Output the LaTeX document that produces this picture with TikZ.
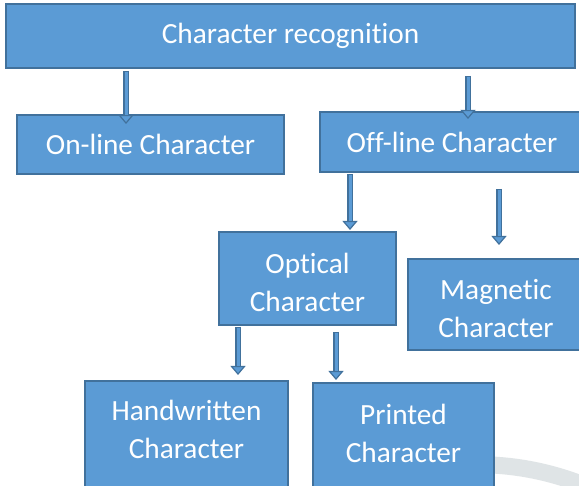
\documentclass[tikz,border=0pt]{standalone}
\usepackage{fontspec}
\setmainfont{Carlito}[Ligatures=NoCommon]
\usetikzlibrary{arrows.meta}
\definecolor{boxfill}{HTML}{5B9BD5}
\definecolor{boxedge}{HTML}{41719C}
\definecolor{wm}{HTML}{DFE4E6}
\tikzset{
  boxtext/.style={text=white, font=\fontsize{29.3}{38}\selectfont, align=center},
  box/.style={draw=boxedge, fill=boxfill, line width=1.5pt, inner sep=0pt, boxtext},
  blockarrow/.style={draw=boxedge, line width=6pt,
    -{Triangle[width=15pt, length=9pt, fill=boxfill, line width=1.2pt]},
    postaction={draw=boxfill, line width=3pt, -, shorten >=9pt, shorten <=1.2pt}}
}
\begin{document}
\begin{tikzpicture}[x=1pt,y=-1pt]
\clip (0,0) rectangle (579,486);
\fill[white] (0,0) rectangle (579,486);
% faint background arc
\draw[wm, line width=17pt] (492,465) .. controls (530,467) and (565,476) .. (600,492);
% boxes
\node[box, minimum width=569pt, minimum height=64pt] (top) at (290.5,36) {Character recognition};
\node[box, minimum width=267pt, minimum height=59pt] (online) at (150.5,144.5) {On-line Character};
\node[box, minimum width=264pt, minimum height=60pt] (offline) at (452,142) {Off-line Character};
\node[box, minimum width=177pt, minimum height=93pt,
  label={[boxtext, yshift=-3.5pt]center:{Optical\\Character}}] (optical) at (307.5,278.5) {};
\node[box, minimum width=176pt, minimum height=91pt,
  label={[boxtext, yshift=-4.5pt]center:{Magnetic\\Character}}] (magnetic) at (496,304.5) {};
\node[box, minimum width=203pt, minimum height=111pt,
  label={[boxtext, yshift=7pt]center:{Handwritten\\Character}}] (hand) at (186.5,436.5) {};
\node[box, minimum width=181pt, minimum height=109pt,
  label={[boxtext, yshift=4.5pt]center:{Printed\\Character}}] (printed) at (403.5,437.5) {};
% arrow end points
\coordinate (a1s) at (126,71);  \coordinate (a1e) at (126,124);
\coordinate (a2s) at (468,76);  \coordinate (a2e) at (468,119);
\coordinate (a3s) at (350,174); \coordinate (a3e) at (350,230);
\coordinate (a4s) at (499,189); \coordinate (a4e) at (499,245);
\coordinate (a5s) at (238,327); \coordinate (a5e) at (238,375);
\coordinate (a6s) at (336,332); \coordinate (a6e) at (336,380);
\draw[blockarrow] (a1s) -- (a1e);
\draw[blockarrow] (a2s) -- (a2e);
\draw[blockarrow] (a3s) -- (a3e);
\draw[blockarrow] (a4s) -- (a4e);
\draw[blockarrow] (a5s) -- (a5e);
\draw[blockarrow] (a6s) -- (a6e);
\end{tikzpicture}
\end{document}
